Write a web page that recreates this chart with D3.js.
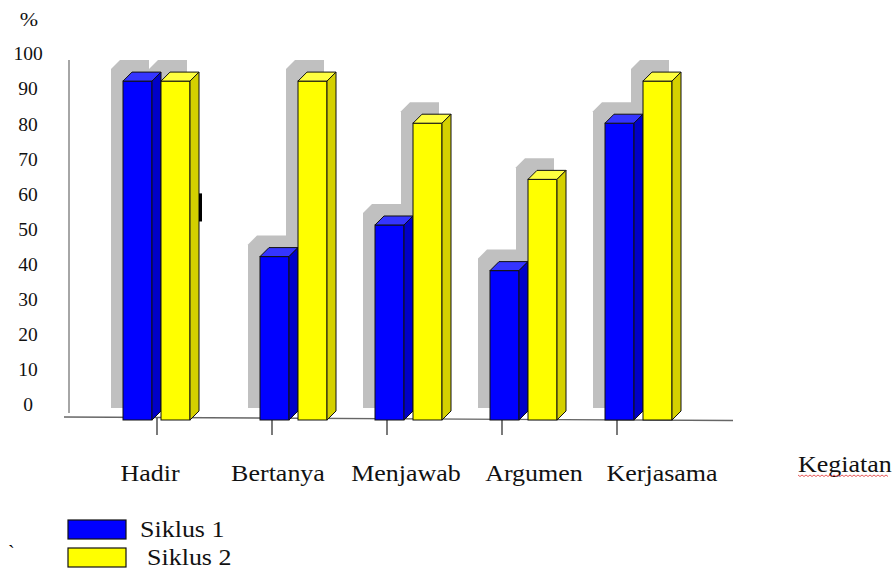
<!DOCTYPE html>
<html>
<head>
<meta charset="utf-8">
<script src="https://cdn.jsdelivr.net/npm/d3@7"></script>
<style>
  body { margin: 0; background: #fff; }
</style>
</head>
<body>
<svg id="chart" width="892" height="569"></svg>
<script>
const categories = ["Hadir", "Bertanya", "Menjawab", "Argumen", "Kerjasama"];
const seriesNames = ["Siklus 1", "Siklus 2"];
const siklus1 = [92, 42, 51, 38, 80];
const siklus2 = [92, 92, 80, 64, 92];
const yTicks = [0, 10, 20, 30, 40, 50, 60, 70, 80, 90, 100];

const colors = {
  "Siklus 1": { front: "#0000ff", side: "#0000c8", top: "#3535ff" },
  "Siklus 2": { front: "#ffff00", side: "#d4d000", top: "#ffff40" }
};
const serif = "'Liberation Serif', Tinos, 'Times New Roman', serif";
const stretch = 1.13; // the labels in the source are a bit wide

const svg = d3.select("#chart");
const baseY = 420;
const barW = 29;
const depth = 9;
const shadowOff = 12;
const firstNudge = -22; // the first group sits left of its tick in the source

const x = d3.scalePoint().domain(categories).range([157, 617]);
// category names are spread wider than the ticks in the source
const xLabel = d3.scalePoint().domain(categories).range([150, 662]);
const xSeries = d3.scaleBand().domain(seriesNames).range([-12, 64]);
const y = d3.scaleLinear().domain([0, 100]).range([404, 53]);

const rows = [];
categories.forEach((c, i) => {
  rows.push({ cat: c, series: "Siklus 1", value: siklus1[i] });
  rows.push({ cat: c, series: "Siklus 2", value: siklus2[i] });
});

const label = (sel, px, py, size) => sel
  .attr("transform", `translate(${px},${py}) scale(${stretch},1)`)
  .attr("font-family", serif).attr("font-size", size).attr("fill", "#111");

// axes lines
svg.append("line")
  .attr("x1", 69).attr("x2", 69).attr("y1", 60).attr("y2", 413)
  .attr("stroke", "#888").attr("stroke-width", 1.5);
svg.append("line")
  .attr("x1", 64).attr("x2", 733).attr("y1", 417).attr("y2", 420.5)
  .attr("stroke", "#666").attr("stroke-width", 1.3);

// category ticks
svg.selectAll(".xtick").data(categories).enter().append("line")
  .attr("class", "xtick")
  .attr("x1", d => x(d)).attr("x2", d => x(d))
  .attr("y1", 418).attr("y2", 435)
  .attr("stroke", "#222").attr("stroke-width", 1.2);

// y labels
const yAxis = d3.axisLeft(y).tickValues(yTicks).tickSize(0).tickPadding(0);
const yg = svg.append("g").attr("transform", "translate(28,0)").call(yAxis)
  .attr("font-family", serif).attr("font-size", 19.5);
yg.select(".domain").remove();
yg.selectAll("text")
  .attr("text-anchor", "middle")
  .attr("dy", "0.35em")
  .attr("fill", "#111");

label(svg.append("text"), 29, 26, 19.5).attr("text-anchor", "middle").text("%");

const frontX = d => x(d.cat) + xSeries(d.series) + (d.cat === categories[0] ? firstNudge : 0);

// shadows
svg.selectAll(".shadow").data(rows).enter().append("path")
  .attr("class", "shadow")
  .attr("fill", "#c0c0c0")
  .attr("d", d => {
    const x0 = frontX(d) - shadowOff, yt = y(d.value) - shadowOff, yb = baseY - shadowOff;
    return `M${x0},${yt}L${x0 + depth},${yt - depth}L${x0 + barW + depth},${yt - depth}` +
      `L${x0 + barW + depth},${yb - depth}L${x0 + barW},${yb}L${x0},${yb}Z`;
  });

// 3D bars
const bars = svg.selectAll(".bar").data(rows).enter().append("g").attr("class", "bar");
bars.append("rect")
  .attr("x", d => frontX(d)).attr("y", d => y(d.value))
  .attr("width", barW).attr("height", d => baseY - y(d.value))
  .attr("fill", d => colors[d.series].front)
  .attr("stroke", "#111").attr("stroke-width", 1);
bars.append("path")
  .attr("fill", d => colors[d.series].top)
  .attr("stroke", "#111").attr("stroke-width", 1)
  .attr("d", d => {
    const x0 = frontX(d), yt = y(d.value);
    return `M${x0},${yt}L${x0 + depth},${yt - depth}L${x0 + barW + depth},${yt - depth}L${x0 + barW},${yt}Z`;
  });
bars.append("path")
  .attr("fill", d => colors[d.series].side)
  .attr("stroke", "#111").attr("stroke-width", 1)
  .attr("d", d => {
    const x0 = frontX(d) + barW, yt = y(d.value);
    return `M${x0},${yt}L${x0 + depth},${yt - depth}L${x0 + depth},${baseY - depth}L${x0},${baseY}Z`;
  });

// small black mark beside the Hadir bars
svg.append("rect")
  .attr("x", frontX({ cat: categories[0], series: "Siklus 2" }) + barW + depth)
  .attr("y", y(60)).attr("width", 3).attr("height", y(52) - y(60))
  .attr("fill", "#000");

// category labels
svg.selectAll(".xlabel").data(categories).enter().append("text")
  .attr("class", "xlabel")
  .each(function (d) { label(d3.select(this), xLabel(d), 481, 23); })
  .attr("text-anchor", "middle")
  .text(d => d);

label(svg.append("text"), 798, 472, 23).text("Kegiatan");

// red squiggle under Kegiatan
const squiggle = d3.range(0, 46).map(i => [798 + i * 2, 475 + (i % 2 ? 1.5 : 0)]);
svg.append("path").attr("d", d3.line()(squiggle))
  .attr("fill", "none").attr("stroke", "#e03030").attr("stroke-width", 0.8);

// legend
const legend = svg.selectAll(".legend").data(seriesNames).enter().append("g")
  .attr("class", "legend")
  .attr("transform", (d, i) => `translate(68,${520 + i * 28})`);
legend.append("rect")
  .attr("width", 58).attr("height", 19)
  .attr("fill", d => colors[d].front)
  .attr("stroke", "#111").attr("stroke-width", 1.2);
legend.append("text")
  .each(function (d, i) { label(d3.select(this), 72 + i * 7, 17, 23); })
  .text(d => d);

svg.append("text").attr("x", 8).attr("y", 560)
  .attr("font-family", serif).attr("font-size", 20).text("`");
</script>
</body>
</html>
